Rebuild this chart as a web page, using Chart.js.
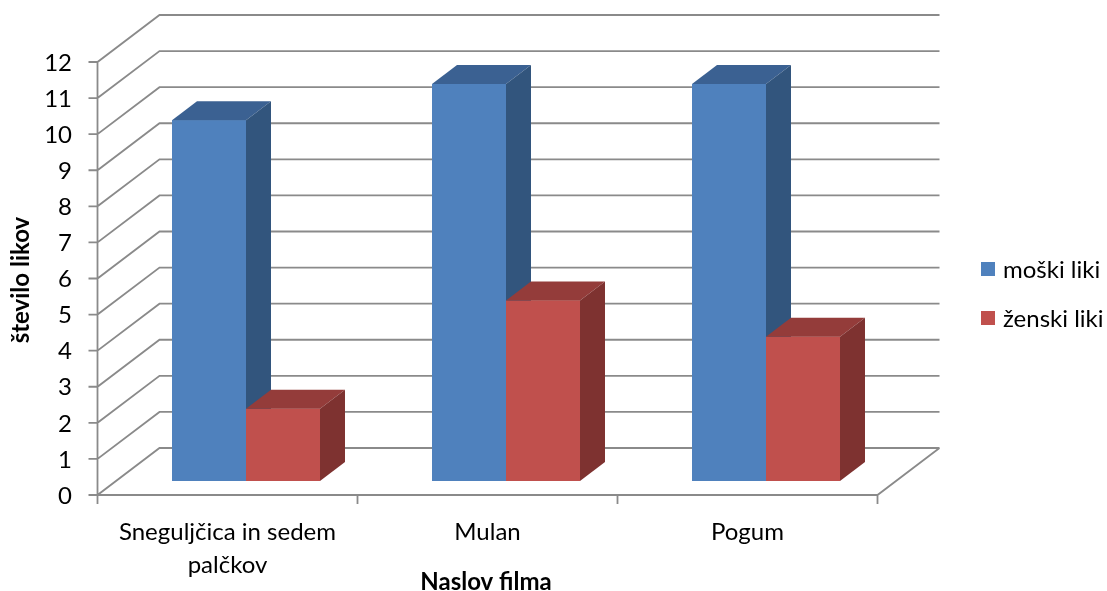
<!DOCTYPE html>
<html>
<head>
<meta charset="utf-8">
<script src="https://cdn.jsdelivr.net/npm/chart.js@4.4.0/dist/chart.umd.min.js"></script>
<style>
  html, body { margin: 0; padding: 0; background: #fff; }
  #wrap { width: 1107px; height: 591px; }
</style>
</head>
<body>
<div id="wrap"><canvas id="chart" width="1107" height="591"></canvas></div>
<script>
// data
const categories = [["Sneguljčica in sedem", "palčkov"], "Mulan", "Pogum"];
const seriesNames = ["moški liki", "ženski liki"];
const maleValues = [10, 11, 11];
const femaleValues = [2, 5, 4];
const yTickValues = [0, 1, 2, 3, 4, 5, 6, 7, 8, 9, 10, 11, 12];
const xTitle = "Naslov filma";
const yTitle = "število likov";

const FONT = "Lato";
const frontColors = ["#4f81bd", "#c0504d"];
const topColors = ["#3b6192", "#943c3a"];
const sideColors = ["#32557d", "#7e3230"];

// 3d offsets, relative to the plane chart.js draws the bar fronts in
const FRONT = { dx: -18.5, dy: 14 };
const BACK = { dx: 43.5, dy: -33 };
const DEPTH = { dx: 25, dy: -19 };

const box3d = {
  id: "box3d",
  beforeDatasetsDraw(chart) {
    const { ctx, chartArea: a, scales: { x, y } } = chart;
    const y0 = y.getPixelForValue(0);
    const yTop = y.getPixelForValue(yTickValues[yTickValues.length - 1]);
    ctx.save();
    ctx.strokeStyle = "#8a8a8a";
    ctx.lineWidth = 1.8;
    ctx.beginPath();
    yTickValues.forEach((v) => {
      const py = y.getPixelForValue(v);
      ctx.moveTo(a.left + FRONT.dx - 9, py + FRONT.dy);
      ctx.lineTo(a.left + FRONT.dx, py + FRONT.dy);
      ctx.lineTo(a.left + BACK.dx, py + BACK.dy);
      ctx.lineTo(a.right + BACK.dx, py + BACK.dy);
    });
    // front axis, floor edges
    ctx.moveTo(a.left + FRONT.dx, yTop + FRONT.dy);
    ctx.lineTo(a.left + FRONT.dx, y0 + FRONT.dy);
    ctx.lineTo(a.right + FRONT.dx, y0 + FRONT.dy);
    ctx.lineTo(a.right + BACK.dx, y0 + BACK.dy);
    // category ticks
    const step = (a.right - a.left) / categories.length;
    for (let i = 0; i <= categories.length; i++) {
      const px = a.left + i * step + FRONT.dx;
      ctx.moveTo(px, y0 + FRONT.dy);
      ctx.lineTo(px, y0 + FRONT.dy + 9);
    }
    ctx.stroke();
    ctx.restore();
  },
  afterDatasetsDraw(chart) {
    const { ctx } = chart;
    const metas = chart.data.datasets.map((_, i) => chart.getDatasetMeta(i));
    // paint category by category, left series first, so the neighbour covers the side
    categories.forEach((_, c) => {
      metas.forEach((meta, d) => {
        const bar = meta.data[c];
        const { x, y, base, width } = bar.getProps(["x", "y", "base", "width"], true);
        const l = x - width / 2;
        const r = x + width / 2;
        bar.draw(ctx);
        ctx.fillStyle = topColors[d];
        ctx.beginPath();
        ctx.moveTo(l, y);
        ctx.lineTo(r, y);
        ctx.lineTo(r + DEPTH.dx, y + DEPTH.dy);
        ctx.lineTo(l + DEPTH.dx, y + DEPTH.dy);
        ctx.closePath();
        ctx.fill();
        ctx.fillStyle = sideColors[d];
        ctx.beginPath();
        ctx.moveTo(r, y);
        ctx.lineTo(r + DEPTH.dx, y + DEPTH.dy);
        ctx.lineTo(r + DEPTH.dx, base + DEPTH.dy);
        ctx.lineTo(r, base);
        ctx.closePath();
        ctx.fill();
      });
    });
  },
  afterDraw(chart) {
    const { ctx } = chart;
    ctx.save();
    ctx.fillStyle = "#000";
    // axis titles
    ctx.font = "bold 24px " + FONT;
    ctx.textAlign = "center";
    ctx.textBaseline = "alphabetic";
    ctx.fillText(xTitle, 486, 590);
    ctx.save();
    ctx.translate(21, 280);
    ctx.rotate(-Math.PI / 2);
    ctx.textBaseline = "middle";
    ctx.fillText(yTitle, 0, 0);
    ctx.restore();
    // legend
    ctx.font = "24px " + FONT;
    ctx.textAlign = "left";
    ctx.textBaseline = "alphabetic";
    seriesNames.forEach((name, i) => {
      const cy = 269 + i * 49;
      ctx.fillStyle = frontColors[i];
      ctx.fillRect(981, cy - 7, 14, 14);
      ctx.fillStyle = "#000";
      ctx.fillText(name, 1003, cy + 9);
    });
    ctx.restore();
  },
};

new Chart(document.getElementById("chart"), {
  type: "bar",
  data: {
    labels: categories,
    datasets: [
      { label: seriesNames[0], data: maleValues, backgroundColor: frontColors[0] },
      { label: seriesNames[1], data: femaleValues, backgroundColor: frontColors[1] },
    ],
  },
  options: {
    responsive: false,
    animation: false,
    events: [],
    barPercentage: 1,
    categoryPercentage: 148 / 260,
    layout: { padding: { left: 0, top: 48, right: 211, bottom: 0 } },
    plugins: { legend: { display: false }, tooltip: { enabled: false } },
    scales: {
      x: {
        grid: { display: false, drawTicks: false },
        border: { display: false },
        ticks: {
          color: "#000",
          font: { family: FONT, size: 24, lineHeight: 1.4 },
          padding: 34,
          labelOffset: FRONT.dx,
          maxRotation: 0,
          autoSkip: false,
        },
        afterFit: (scale) => { scale.height = 110; },
      },
      y: {
        min: yTickValues[0],
        max: yTickValues[yTickValues.length - 1],
        grid: { display: false, drawTicks: false },
        border: { display: false },
        ticks: {
          stepSize: 1,
          color: "#000",
          font: { family: FONT, size: 24 },
          padding: 44,
          labelOffset: 15,
          autoSkip: false,
        },
        afterFit: (scale) => {
          scale.width = 116;
          scale.paddingTop = 0;
          scale.paddingBottom = 0;
        },
      },
    },
  },
  plugins: [box3d],
});
</script>
</body>
</html>
